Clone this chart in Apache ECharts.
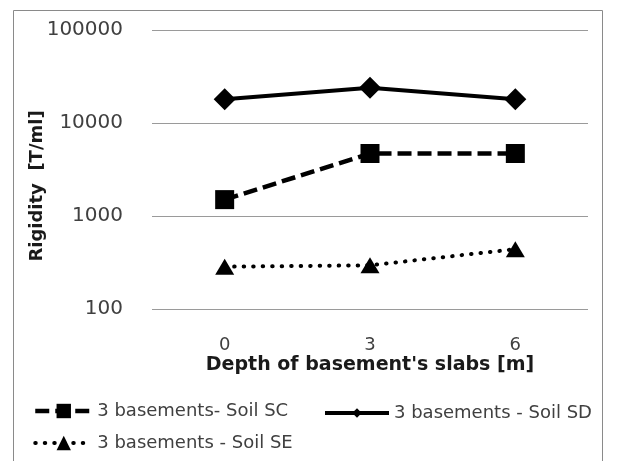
<!DOCTYPE html>
<html>
<head>
<meta charset="utf-8">
<script src="https://cdn.jsdelivr.net/npm/echarts@6/dist/echarts.min.js"></script>
<style>
  html, body { margin: 0; padding: 0; background: #ffffff; }
  #chart { width: 617px; height: 461px; }
</style>
</head>
<body>
<div id="chart"></div>
<script>
// Depth of basement slabs (m) on the category axis
const depths = ['0', '3', '6'];
// Rigidity values [T/ml] for each soil type, 3 basements
const soilSC = [1500, 4700, 4700];
const soilSD = [18000, 24000, 18000];
const soilSE = [285, 295, 440];
// Log-axis bounds
const yMin = 100;
const yMax = 100000;

const seriesNames = {
  sc: '3 basements- Soil SC',
  sd: '3 basements - Soil SD',
  se: '3 basements - Soil SE'
};

const FONT = 'DejaVu Sans';
const chart = echarts.init(document.getElementById('chart'), null, { renderer: 'canvas' });

const scLine = { color: '#000000', width: 4.5, type: [14, 6] };
const sdLine = { color: '#000000', width: 4 };
const seLine = { color: '#000000', width: 4, type: [0.5, 9], cap: 'round' };

chart.setOption({
  backgroundColor: '#ffffff',
  animation: false,
  graphic: [{
    type: 'rect',
    silent: true,
    shape: { x: 13.5, y: 10.5, width: 589, height: 480 },
    style: { fill: 'none', stroke: '#8a8a8a', lineWidth: 1 }
  }],
  grid: { left: 152, right: 29, top: 30, bottom: 152, containLabel: false },
  xAxis: {
    type: 'category',
    data: depths,
    boundaryGap: true,
    axisLine: { show: false },
    axisTick: { show: false },
    axisLabel: { margin: 27, fontFamily: FONT, fontSize: 18, color: '#404040' },
    name: "Depth of basement's slabs [m]",
    nameLocation: 'middle',
    nameGap: 56,
    nameMoveOverlap: false,
    nameTextStyle: { fontFamily: FONT, fontWeight: 'bold', fontSize: 19, color: '#1a1a1a', verticalAlign: 'middle' }
  },
  yAxis: {
    type: 'log',
    logBase: 10,
    min: yMin,
    max: yMax,
    axisLine: { show: false },
    axisTick: { show: false },
    splitLine: { show: true, lineStyle: { color: '#9a9a9a', width: 1 } },
    axisLabel: {
      margin: 29, fontFamily: FONT, fontSize: 20, color: '#404040',
      formatter: (v) => String(Math.round(v))
    },
    name: 'Rigidity  [T/ml]',
    nameLocation: 'middle',
    nameRotate: 90,
    nameGap: 115,
    nameMoveOverlap: false,
    nameTextStyle: { fontFamily: FONT, fontWeight: 'bold', fontSize: 18, color: '#1a1a1a', verticalAlign: 'middle', padding: [0, 33, 0, 0] }
  },
  legend: [{
    orient: 'vertical',
    left: 28,
    top: 397,
    itemWidth: 57,
    itemHeight: 18,
    itemGap: 14,
    data: [
      { name: seriesNames.sc, lineStyle: scLine },
      { name: seriesNames.se, lineStyle: seLine }
    ],
    textStyle: { fontFamily: FONT, fontSize: 18, color: '#404040' }
  }, {
    orient: 'horizontal',
    left: 318,
    top: 399,
    itemWidth: 64,
    itemHeight: 12,
    data: [{ name: seriesNames.sd, lineStyle: sdLine }],
    textStyle: { fontFamily: FONT, fontSize: 18, color: '#404040' }
  }],
  series: [{
    name: seriesNames.sc,
    type: 'line',
    data: soilSC,
    symbol: 'rect',
    symbolSize: 19,
    itemStyle: { color: '#000000' },
    lineStyle: scLine
  }, {
    name: seriesNames.sd,
    type: 'line',
    data: soilSD,
    symbol: 'diamond',
    symbolSize: 22,
    itemStyle: { color: '#000000' },
    lineStyle: sdLine
  }, {
    name: seriesNames.se,
    type: 'line',
    data: soilSE,
    symbol: 'triangle',
    symbolSize: [19, 16],
    itemStyle: { color: '#000000' },
    lineStyle: seLine
  }]
});
</script>
</body>
</html>
